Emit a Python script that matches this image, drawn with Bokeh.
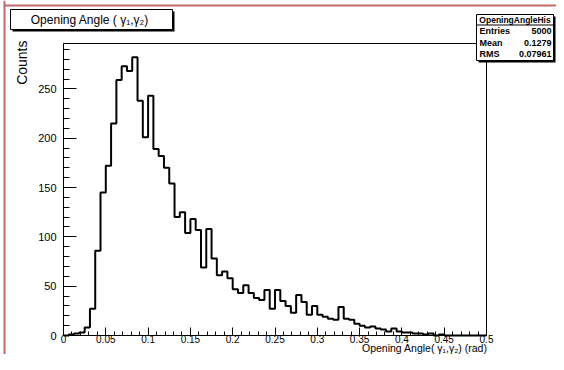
from bokeh.plotting import figure
from bokeh.models import Range1d, FixedTicker, Label, BoxAnnotation
from bokeh.embed import file_html
from bokeh.resources import INLINE

# ---------------- data ----------------
counts = [0, 1, 2, 3, 8, 27, 86, 145, 172, 215,
          259, 273, 268, 282, 238, 201, 243, 189, 182, 170,
          154, 120, 125, 104, 118, 107, 69, 108, 78, 61,
          65, 58, 47, 43, 51, 43, 38, 36, 46, 27,
          46, 35, 30, 23, 41, 34, 21, 30, 21, 19,
          17, 16, 29, 17, 16, 12, 10, 8, 9, 7,
          6, 4, 7, 4, 3, 3, 2, 2, 1, 2,
          0, 1, 0, 0, 0, 0, 0, 0, 0, 0]
x_min = 0.0
x_max = 0.5
y_max = 296
x_tick_values = [0, 0.05, 0.1, 0.15, 0.2, 0.25, 0.3, 0.35, 0.4, 0.45, 0.5]
x_tick_labels = ["0", "0.05", "0.1", "0.15", "0.2", "0.25", "0.3", "0.35", "0.4", "0.45", "0.5"]
x_minor_values = [i / 100 for i in range(51)]
y_tick_values = [0, 50, 100, 150, 200, 250]
y_tick_labels = ["0", "50", "100", "150", "200", "250"]
y_minor_values = [i * 10 for i in range(30)]
hist_name = "OpeningAngleHis"
stats_names = ["Entries", "Mean", "RMS"]
stats_values = ["5000", "0.1279", "0.07961"]
title_text = "Opening Angle (  γ₁,γ₂)"
x_title = "Opening Angle( γ₁,γ₂) (rad)"
y_title = "Counts"

# ---------------- layout (picture pixels) ----------------
W, H = 556, 354
FL, FR, FT, FB = 63, 486, 43, 335     # ROOT frame edges
FONT = "Liberation Sans"

kx = (FR - FL) / (x_max - x_min)      # px per x unit
ky = (FB - FT) / y_max                # px per count
xr = Range1d(x_min - FL / kx, x_max + (W - FR) / kx)
yr = Range1d(-(H - FB) / ky, y_max + FT / ky)

p = figure(width=W, height=H, output_backend="svg", toolbar_location=None,
           x_range=xr, y_range=yr,
           min_border_left=0, min_border_right=0, min_border_top=0, min_border_bottom=0)
p.background_fill_color = "white"
p.border_fill_color = "white"
p.outline_line_color = None
p.xgrid.visible = False
p.ygrid.visible = False

p.xaxis.fixed_location = 0
p.yaxis.fixed_location = x_min
p.xaxis.bounds = (x_min, x_max)
p.yaxis.bounds = (0, y_max)

for ax, tv, tl, mv, tin in ((p.xaxis, x_tick_values, x_tick_labels, x_minor_values, 8),
                            (p.yaxis, y_tick_values, y_tick_labels, y_minor_values, 13)):
    ax.ticker = FixedTicker(ticks=tv, minor_ticks=mv)
    ax.major_label_overrides = {v: l for v, l in zip(tv, tl)}
    ax.major_tick_in = tin
    ax.major_tick_out = 0
    ax.minor_tick_in = tin // 2
    ax.minor_tick_out = 0
    ax.axis_line_color = "black"
    ax.major_tick_line_color = "black"
    ax.minor_tick_line_color = "black"
    ax.major_label_text_font = FONT
    ax.major_label_text_font_size = "11px"
    ax.major_label_text_color = "black"
p.xaxis.major_label_text_font_size = "10px"
p.xaxis.major_label_standoff = -1
p.yaxis.major_label_standoff = 7

# ROOT frame
p.add_layout(BoxAnnotation(left=x_min, right=x_max, bottom=0, top=y_max,
                           fill_alpha=0, line_color="black", line_width=1, line_alpha=1))

# histogram outline
n_bins = len(counts)
edges = [x_min + (x_max - x_min) * i / n_bins for i in range(n_bins + 1)]
p.step(x=edges, y=counts + [counts[-1]], mode="after", line_color="black", line_width=2)


def sy(iy):
    return H - iy


def box(l, t, r, b, fill="white", line="black"):
    p.add_layout(BoxAnnotation(left=l, right=r, top=sy(t), bottom=sy(b),
                               left_units="screen", right_units="screen",
                               top_units="screen", bottom_units="screen",
                               fill_color=fill, fill_alpha=1,
                               line_color=line, line_width=1, line_alpha=1))


def text(ix, iy, s, size="11px", align="left", angle=0, style="normal"):
    p.add_layout(Label(x=ix, y=sy(iy), x_units="screen", y_units="screen",
                       text=s, text_font=FONT, text_font_size=size, text_font_style=style,
                       text_align=align, text_baseline="middle", text_color="black",
                       angle=angle, angle_units="deg"))


# canvas border (reddish)
box(3, 0, 5, H, fill="#c46a6a", line=None)
box(3, 4, W, 6, fill="#c46a6a", line=None)

# title box with shadow
TL, TT, TR, TB = 10, 9, 172, 29
box(TL + 2, TT + 2, TR + 2, TB + 2, fill="black", line=None)
box(TL, TT, TR, TB)
text((TL + TR) / 2, (TT + TB) / 2 + 0.5, title_text, size="12px", align="center")

# stats box with shadow
SL, ST, SR, SB = 476, 14, 553, 60
box(SL + 2, ST + 2, SR + 2, SB + 2, fill="black", line=None)
box(SL, ST, SR, SB)
box(SL, ST + 10, SR, ST + 11, fill="black", line=None)
text((SL + SR) / 2, ST + 5.5, hist_name, size="8.5px", align="center", style="bold")
for k, (nm, vv) in enumerate(zip(stats_names, stats_values)):
    yy = ST + 16.5 + 11.5 * k
    text(SL + 3, yy, nm, size="9px", align="left", style="bold")
    text(SR - 2, yy, vv, size="9px", align="right", style="bold")

# axis titles
text(21, 40, y_title, size="14px", align="right", angle=90)
text(FR + 1, 347.5, x_title, size="10.5px", align="right")

open("out.html", "w").write(file_html(p, INLINE))
